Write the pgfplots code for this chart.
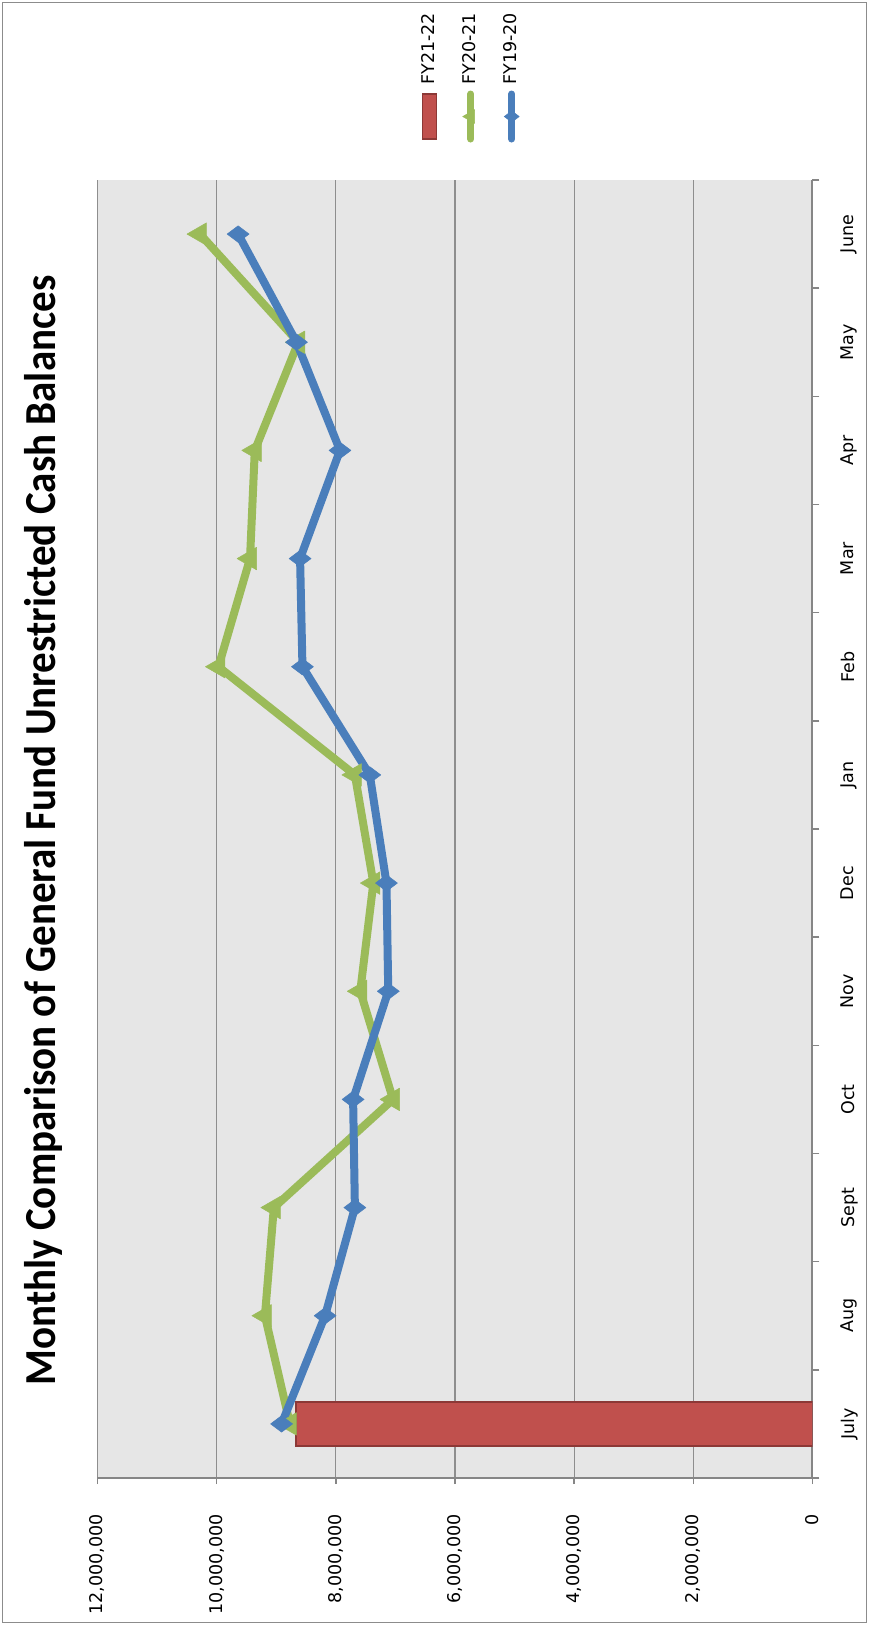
\documentclass[border=0pt]{standalone}
\usepackage{graphicx}
\usepackage{pgfplots}
\pgfplotsset{compat=1.18}
\usepackage{fontspec}
\setmainfont{DejaVu Sans}
\newfontfamily\titlefont{Carlito}
\definecolor{fyblue}{HTML}{4A7EBB}
\definecolor{fygreen}{HTML}{9BBB59}
\definecolor{fyred}{HTML}{C0504D}
\definecolor{fyredd}{HTML}{8C3836}
\definecolor{plotbg}{HTML}{E6E6E6}
\definecolor{gridc}{HTML}{8E8E8E}
\definecolor{axisc}{HTML}{868686}
\definecolor{framec}{HTML}{8C8C8C}
\pgfplotsset{
  barleg/.style={legend image code/.code={\draw[##1] (0pt,-7pt) rectangle (45pt,7pt);}},
  lineleg/.style={legend image code/.code={\draw[mark repeat=2,mark phase=2,##1,line width=7pt,mark size=#1] plot coordinates {(0pt,0pt) (22.5pt,0pt) (45pt,0pt)};}},
}
\newsavebox\chartbox
\begin{document}
\begin{lrbox}{\chartbox}%
\begin{tikzpicture}
\useasboundingbox (0,0) rectangle (1625pt,869pt);
\fill[white] (0,0) rectangle (1625pt,869pt);
\draw[framec, line width=1.5pt] (2.5pt,2.5pt) rectangle (1622.5pt,866.5pt);
\begin{axis}[
  at={(147pt,56.5pt)}, anchor=south west,
  scale only axis, width=1298pt, height=715pt,
  xmin=-0.5, xmax=11.5, ymin=0, ymax=12000000,
  scaled y ticks=false,
  axis background/.style={fill=plotbg},
  axis lines*=left,
  axis line style={axisc, line width=2pt},
  xtick={0,1,2,3,4,5,6,7,8,9,10,11},
  xticklabels={July,Aug,Sept,Oct,Nov,Dec,Jan,Feb,Mar,Apr,May,June},
  minor xtick={-0.5,0.5,1.5,2.5,3.5,4.5,5.5,6.5,7.5,8.5,9.5,10.5,11.5},
  major x tick style={draw=none},
  minor x tick style={axisc, line width=1.5pt},
  ytick={0,2000000,4000000,6000000,8000000,10000000,12000000},
  yticklabels={0,{2,000,000},{4,000,000},{6,000,000},{8,000,000},{10,000,000},{12,000,000}},
  y tick style={axisc, line width=1.5pt},
  tick align=outside,
  major tick length=6pt, minor tick length=7pt,
  ymajorgrids,
  major grid style={gridc, line width=1.3pt},
  xticklabel style={font=\fontsize{17.5}{20}\selectfont, anchor=north, inner sep=0pt, yshift=-22.5pt},
  yticklabel style={font=\fontsize{17.5}{20}\selectfont, anchor=east, inner sep=0pt, xshift=-30pt},
  legend style={at={(1.0287,0.478)}, anchor=west, draw=none, fill=none, inner sep=0pt,
    font=\fontsize{17.5}{20}\selectfont, row sep=24pt, column sep=6pt,
    nodes={inner sep=0pt, text height=13pt, text depth=4pt}},
  legend cell align=left,
]
\addplot[ybar, bar width=44pt, fill=fyred, draw=fyredd, line width=1.5pt, barleg]
  coordinates {(0,8670000)};
\addlegendentry{FY21-22}
\addplot[fygreen, line width=8pt, line join=round, line cap=round,
  mark=triangle*, mark size=13pt,
  mark options={fill=fygreen, draw=fygreen, line width=0.5pt, solid},
  lineleg=8pt]
  coordinates {(0,8770000) (1,9190000) (2,9040000) (3,7040000) (4,7590000) (5,7370000)
               (6,7680000) (7,9970000) (8,9440000) (9,9360000) (10,8630000) (11,10280000)};
\addlegendentry{FY20-21}
\addplot[fyblue, line width=8pt, line join=round, line cap=round,
  mark=diamond*, mark size=11pt,
  mark options={fill=fyblue, draw=fyblue, line width=0.5pt, solid},
  lineleg=7.5pt]
  coordinates {(0,8910000) (1,8180000) (2,7680000) (3,7710000) (4,7120000) (5,7150000)
               (6,7430000) (7,8560000) (8,8600000) (9,7930000) (10,8660000) (11,9640000)};
\addlegendentry{FY19-20}
\addplot[forget plot, ybar, bar width=44pt, fill=fyred, draw=fyredd, line width=1.5pt]
  coordinates {(0,8670000)};
\end{axis}
\node[anchor=base, inner sep=0pt, font=\titlefont\bfseries\fontsize{41}{48}\selectfont] at (794.5pt,813pt)
  {\scalebox{1}[1.08]{Monthly Comparison of General Fund Unrestricted Cash Balances}};
\end{tikzpicture}%
\end{lrbox}%
\rotatebox{90}{\usebox\chartbox}%
\end{document}
